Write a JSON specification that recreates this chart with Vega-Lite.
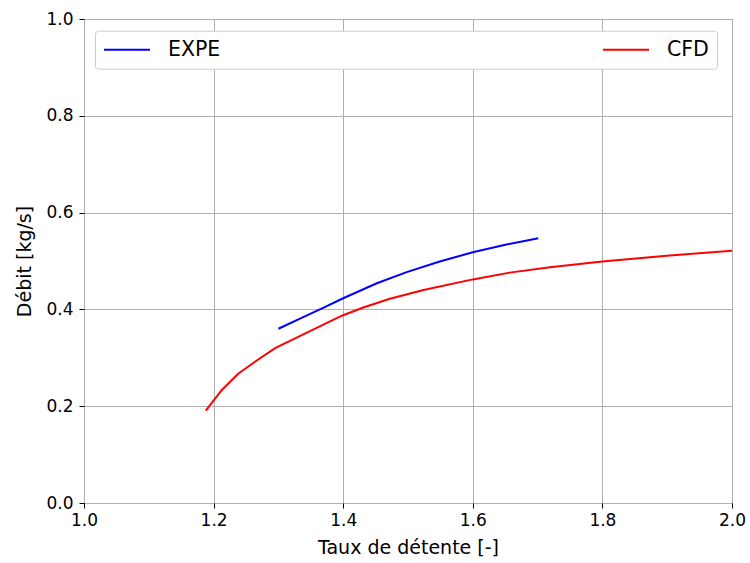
{
  "$schema": "https://vega.github.io/schema/vega-lite/v6.json",
  "width": 648,
  "height": 484,
  "autosize": {"type": "none"},
  "padding": {"left": 84, "top": 19, "right": 18, "bottom": 60},
  "background": "white",
  "config": {
    "font": "DejaVu Sans",
    "view": {"stroke": "black", "strokeWidth": 1},
    "axis": {
      "domain": false,
      "grid": true,
      "gridColor": "#b0b0b0",
      "gridWidth": 1,
      "tickColor": "black",
      "tickSize": 5,
      "tickWidth": 1,
      "labelFont": "DejaVu Sans",
      "labelFontSize": 17,
      "labelColor": "black",
      "labelFlush": false,
      "labelOverlap": false,
      "titleFont": "DejaVu Sans",
      "titleFontSize": 19,
      "titleFontWeight": "normal",
      "titleColor": "black"
    }
  },
  "data": {
    "values": [
      {"series": "EXPE", "x": 1.300, "y": 0.360},
      {"series": "EXPE", "x": 1.335, "y": 0.382},
      {"series": "EXPE", "x": 1.369, "y": 0.403},
      {"series": "EXPE", "x": 1.400, "y": 0.423},
      {"series": "EXPE", "x": 1.452, "y": 0.454},
      {"series": "EXPE", "x": 1.498, "y": 0.477},
      {"series": "EXPE", "x": 1.549, "y": 0.499},
      {"series": "EXPE", "x": 1.600, "y": 0.518},
      {"series": "EXPE", "x": 1.652, "y": 0.534},
      {"series": "EXPE", "x": 1.701, "y": 0.547},
      {"series": "CFD", "x": 1.188, "y": 0.191},
      {"series": "CFD", "x": 1.213, "y": 0.234},
      {"series": "CFD", "x": 1.238, "y": 0.267},
      {"series": "CFD", "x": 1.266, "y": 0.294},
      {"series": "CFD", "x": 1.295, "y": 0.320},
      {"series": "CFD", "x": 1.344, "y": 0.352},
      {"series": "CFD", "x": 1.398, "y": 0.387},
      {"series": "CFD", "x": 1.431, "y": 0.404},
      {"series": "CFD", "x": 1.472, "y": 0.422},
      {"series": "CFD", "x": 1.524, "y": 0.440},
      {"series": "CFD", "x": 1.600, "y": 0.462},
      {"series": "CFD", "x": 1.657, "y": 0.476},
      {"series": "CFD", "x": 1.719, "y": 0.487},
      {"series": "CFD", "x": 1.800, "y": 0.499},
      {"series": "CFD", "x": 1.899, "y": 0.511},
      {"series": "CFD", "x": 2.000, "y": 0.521}
    ]
  },
  "mark": {"type": "line", "strokeWidth": 2, "clip": true},
  "encoding": {
    "x": {
      "field": "x",
      "type": "quantitative",
      "scale": {"domain": [1.0, 2.0], "nice": false, "zero": false},
      "axis": {"values": [1.0, 1.2, 1.4, 1.6, 1.8, 2.0], "format": ".1f", "title": "Taux de détente [-]", "titlePadding": 10, "labelPadding": 4}
    },
    "y": {
      "field": "y",
      "type": "quantitative",
      "scale": {"domain": [0, 1], "nice": false},
      "axis": {"values": [0, 0.2, 0.4, 0.6, 0.8, 1.0], "format": ".1f", "title": "Débit [kg/s]", "titlePadding": 11, "labelPadding": 6}
    },
    "color": {
      "field": "series",
      "type": "nominal",
      "scale": {"domain": ["EXPE", "CFD"], "range": ["#0000ff", "#ff0000"]},
      "legend": {
        "title": null,
        "orient": "none",
        "legendX": 11,
        "legendY": 11.7,
        "direction": "horizontal",
        "columns": 2,
        "columnPadding": 381,
        "symbolType": "stroke",
        "symbolSize": 2116,
        "symbolStrokeWidth": 2,
        "clipHeight": 22,
        "labelFont": "DejaVu Sans",
        "labelFontSize": 20.5,
        "labelColor": "black",
        "labelOffset": 17,
        "padding": 8,
        "fillColor": "white",
        "strokeColor": "#cccccc",
        "cornerRadius": 3
      }
    },
    "order": {"field": "x", "type": "quantitative"}
  }
}
